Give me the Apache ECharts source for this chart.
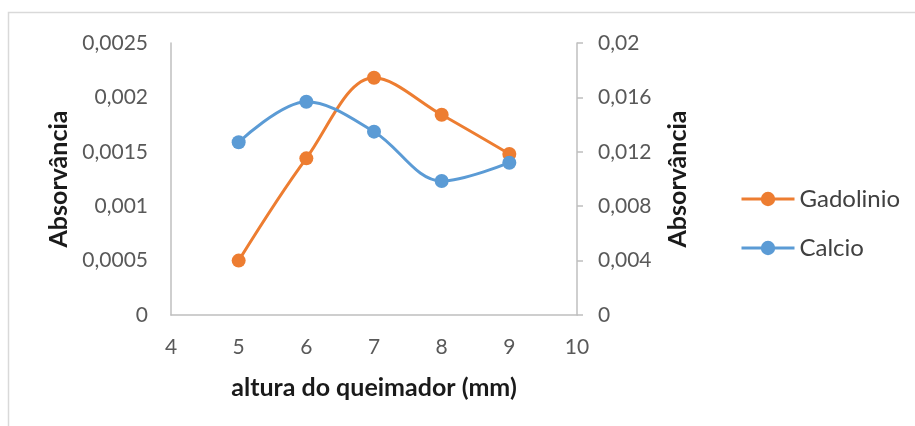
<!DOCTYPE html>
<html>
<head>
<meta charset="utf-8">
<script src="https://cdn.jsdelivr.net/npm/echarts@6/dist/echarts.min.js"></script>
<style>html,body{margin:0;padding:0;background:#fff;}#c{width:915px;height:426px;}</style>
</head>
<body>
<div id="c"></div>
<script>
const xValues = [5, 6, 7, 8, 9];
const gadolinio = [0.0005, 0.00144, 0.00218, 0.00184, 0.00148];
const calcio = [0.0127, 0.01568, 0.01348, 0.00985, 0.0112];
const xTickLabels = ['4', '5', '6', '7', '8', '9', '10'];
const leftTickLabels = ['0', '0,0005', '0,001', '0,0015', '0,002', '0,0025'];
const rightTickLabels = ['0', '0,004', '0,008', '0,012', '0,016', '0,02'];
const seriesNames = ['Gadolinio', 'Calcio'];
const xTitle = 'altura do queimador (mm)';
const yTitle = 'Absorvância';

const FONT = 'Lato';
const chart = echarts.init(document.getElementById('c'), null, {renderer: 'canvas'});
chart.setOption({
  animation: false,
  backgroundColor: '#fff',
  textStyle: {fontFamily: FONT},
  graphic: [{
    type: 'rect', silent: true,
    shape: {x: 8.5, y: 12.5, width: 920, height: 430},
    style: {fill: 'none', stroke: '#D9D9D9', lineWidth: 1.5}
  }],
  grid: {left: 171, right: 338, top: 43, bottom: 111, containLabel: false},
  legend: {
    orient: 'vertical', left: 735, top: 182, itemGap: 25,
    itemWidth: 53, itemHeight: 18,
    data: seriesNames,
    lineStyle: {width: 3},
    textStyle: {fontFamily: FONT, fontSize: 24, color: '#404040', padding: [0, 0, 0, 0]}
  },
  xAxis: {
    type: 'value', min: 4, max: 10, interval: 1,
    name: xTitle, nameLocation: 'middle', nameGap: 60,
    nameTextStyle: {fontFamily: FONT, fontSize: 25, fontWeight: 'bold', color: '#1a1a1a'},
    axisLine: {show: true, onZero: false, lineStyle: {color: '#BFBFBF', width: 1.5}},
    axisTick: {show: false},
    splitLine: {show: false},
    axisLabel: {fontFamily: FONT, fontSize: 21, color: '#595959', margin: 22,
      formatter: (v, i) => xTickLabels[i]}
  },
  yAxis: [{
    type: 'value', min: 0, max: 0.0025, interval: 0.0005, position: 'left',
    name: yTitle, nameLocation: 'middle', nameGap: 100, nameRotate: 90,
    nameTextStyle: {fontFamily: FONT, fontSize: 25, fontWeight: 'bold', color: '#1a1a1a'},
    axisLine: {show: true, lineStyle: {color: '#BFBFBF', width: 1.5}},
    axisTick: {show: false},
    splitLine: {show: false},
    axisLabel: {fontFamily: FONT, fontSize: 21, color: '#595959', margin: 23,
      formatter: (v, i) => leftTickLabels[i]}
  }, {
    type: 'value', min: 0, max: 0.02, interval: 0.004, position: 'right',
    name: yTitle, nameLocation: 'middle', nameGap: 88, nameRotate: 90,
    nameTextStyle: {fontFamily: FONT, fontSize: 25, fontWeight: 'bold', color: '#1a1a1a'},
    axisLine: {show: true, lineStyle: {color: '#BFBFBF', width: 1.5}},
    axisTick: {show: true, length: 6, lineStyle: {color: '#BFBFBF', width: 1.5}},
    splitLine: {show: false},
    axisLabel: {fontFamily: FONT, fontSize: 21, color: '#595959', margin: 21,
      formatter: (v, i) => rightTickLabels[i]}
  }],
  series: [{
    name: seriesNames[0], type: 'line', yAxisIndex: 0, smooth: 0.35,
    data: xValues.map((x, i) => [x, gadolinio[i]]),
    symbol: 'circle', symbolSize: 14,
    itemStyle: {color: '#ED7D31'},
    lineStyle: {color: '#ED7D31', width: 3}
  }, {
    name: seriesNames[1], type: 'line', yAxisIndex: 1, smooth: 0.35,
    data: xValues.map((x, i) => [x, calcio[i]]),
    symbol: 'circle', symbolSize: 14,
    itemStyle: {color: '#5B9BD5'},
    lineStyle: {color: '#5B9BD5', width: 3}
  }]
});
</script>
</body>
</html>
